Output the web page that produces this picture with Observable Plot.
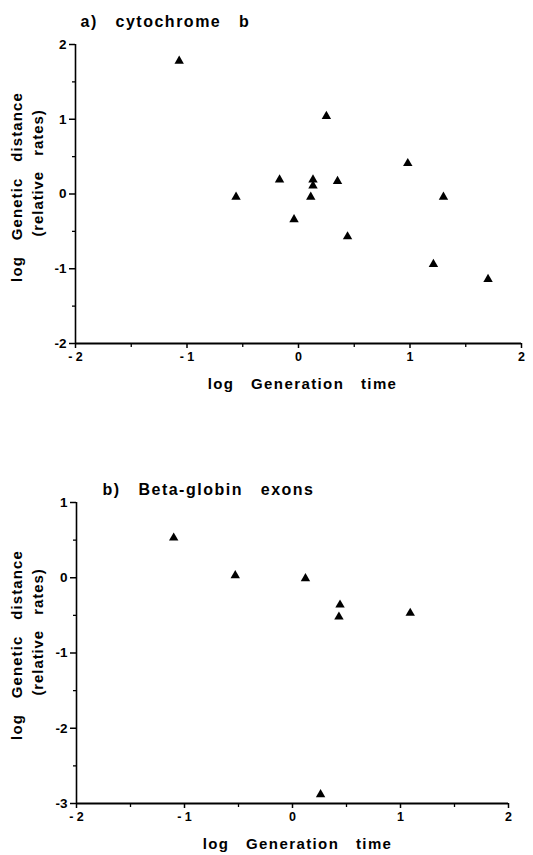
<!DOCTYPE html>
<html>
<head>
<meta charset="utf-8">
<script src="https://cdn.jsdelivr.net/npm/d3@7"></script>
<script src="https://cdn.jsdelivr.net/npm/@observablehq/plot@0.6"></script>
<style>
  html, body { margin: 0; padding: 0; background: #fff; }
  #wrap { position: relative; width: 533px; height: 855px; background: #fff; }
  #wrap svg { position: absolute; left: 0; }
  #wrap svg text { white-space: pre; }
</style>
</head>
<body>
<div id="wrap"></div>
<script>
// ---- data ----
const cytbGenTime = [-1.07, -0.56, -0.17, 0.13, 0.13, 0.11, 0.25, 0.35, 0.98, 1.30, -0.04, 0.44, 1.21, 1.70];
const cytbDist    = [ 1.78, -0.04,  0.19, 0.19, 0.11, -0.04, 1.04, 0.17, 0.41, -0.04, -0.34, -0.57, -0.94, -1.14];

const betaGenTime = [-1.10, -0.53, 0.12, 0.44, 0.43, 1.09, 0.26];
const betaDist    = [ 0.53,  0.03, -0.01, -0.36, -0.52, -0.47, -2.88];

const xTicks = [-2, -1, 0, 1, 2];
const xTickLabels = ["- 2", "- 1", "0", "1", "2"];
const xMinorTicks = [-1.5, -0.5, 0.5, 1.5];

const yTicksA = [-2, -1, 0, 1, 2];
const yTickLabelsA = ["-2", "-1", "0", "1", "2"];
const yMinorTicksA = [-1.5, -0.5, 0.5, 1.5];

const yTicksB = [-3, -2, -1, 0, 1];
const yTickLabelsB = ["-3", "-2", "-1", "0", "1"];
const yMinorTicksB = [-2.5, -1.5, -0.5, 0.5];

const titleA = "a)   cytochrome   b";
const titleB = "b)   Beta-globin   exons";
const yLabel1 = "log   Genetic   distance";
const yLabel2 = "(relative   rates)";
const xLabel = "log   Generation   time";

const FONT = "'Liberation Sans', Arial, Helvetica, sans-serif";

const spacing = new Map([
  [titleA, "1.5px"], [titleB, "1.5px"],
  [yLabel1, "1.1px"], [yLabel2, "0.9px"], [xLabel, "1.4px"]
]);

function panel({xs, ys, yDomain, yTicks, yTickLabels, yMinor, title, height, mt, mb, ml, mr, titleDx, titleDy, yl1, yl2, xlDx, xlDy}) {
  const pts = xs.map((x, i) => ({x, y: ys[i]}));
  const xDomain = [xTicks[0], xTicks[xTicks.length - 1]];
  const svg = Plot.plot({
    width: 533,
    height,
    marginTop: mt, marginBottom: mb, marginLeft: ml, marginRight: mr,
    style: {fontFamily: FONT, fontSize: "12px", fontWeight: "bold", color: "#000", background: "transparent", overflow: "visible"},
    x: {domain: xDomain},
    y: {domain: yDomain},
    marks: [
      Plot.axisX({ticks: xTicks, tickFormat: d => xTickLabels[xTicks.indexOf(d)], tickSize: 5, tickPadding: 4, strokeWidth: 1.5, label: null, fontSize: 12.5, fontWeight: "bold"}),
      Plot.axisX({ticks: xMinorTicks, tickFormat: () => "", tickSize: 4, strokeWidth: 1.3, label: null}),
      Plot.axisY({ticks: yTicks, tickFormat: d => yTickLabels[yTicks.indexOf(d)], tickSize: 6, tickPadding: 3, strokeWidth: 1.5, label: null, fontSize: 13.5, fontWeight: "bold"}),
      Plot.axisY({ticks: yMinor, tickFormat: () => "", tickSize: 3, strokeWidth: 1.3, label: null}),
      Plot.ruleX([xDomain[0]], {y1: yDomain[0], y2: yDomain[1], strokeWidth: 1.6}),
      Plot.ruleY([yDomain[0]], {x1: xDomain[0], x2: xDomain[1], strokeWidth: 2}),
      Plot.dot(pts, {x: "x", y: "y", symbol: "triangle", r: 3.5, fill: "#000", stroke: "none"}),
      Plot.text([title], {frameAnchor: "top-left", text: d => d, textAnchor: "start", dx: titleDx, dy: titleDy, fontSize: 16, fontWeight: "bold"}),
      Plot.text([yLabel1], {frameAnchor: "left", text: d => d, textAnchor: "middle", rotate: -90, dx: yl1.dx, dy: yl1.dy, fontSize: 15, fontWeight: "bold"}),
      Plot.text([yLabel2], {frameAnchor: "left", text: d => d, textAnchor: "middle", rotate: -90, dx: yl2.dx, dy: yl2.dy, fontSize: 15, fontWeight: "bold"}),
      Plot.text([xLabel], {frameAnchor: "bottom", text: d => d, textAnchor: "middle", dx: xlDx, dy: xlDy, fontSize: 15, fontWeight: "bold"})
    ]
  });
  d3.select(svg).selectAll("text").each(function () {
    const ls = spacing.get(this.textContent);
    if (ls) { this.style.letterSpacing = ls; this.setAttribute("letter-spacing", ls); }
  });
  return svg;
}

const wrap = document.getElementById("wrap");

const a = panel({
  xs: cytbGenTime, ys: cytbDist, yDomain: [-2, 2], yTicks: yTicksA, yTickLabels: yTickLabelsA, yMinor: yMinorTicksA,
  title: titleA, height: 400, mt: 44, mb: 57, ml: 75, mr: 12,
  titleDx: 5, titleDy: -29,
  yl1: {dx: -58, dy: -7}, yl2: {dx: -37, dy: -21},
  xlDx: 4, xlDy: 45
});
a.style.top = "0px";
wrap.appendChild(a);

const b = panel({
  xs: betaGenTime, ys: betaDist, yDomain: [-3, 1], yTicks: yTicksB, yTickLabels: yTickLabelsB, yMinor: yMinorTicksB,
  title: titleB, height: 395, mt: 42, mb: 52, ml: 76, mr: 25,
  titleDx: 26, titleDy: -19,
  yl1: {dx: -59, dy: -8}, yl2: {dx: -38, dy: -21},
  xlDx: 5, xlDy: 45
});
b.style.top = "460px";
wrap.appendChild(b);
</script>
</body>
</html>
